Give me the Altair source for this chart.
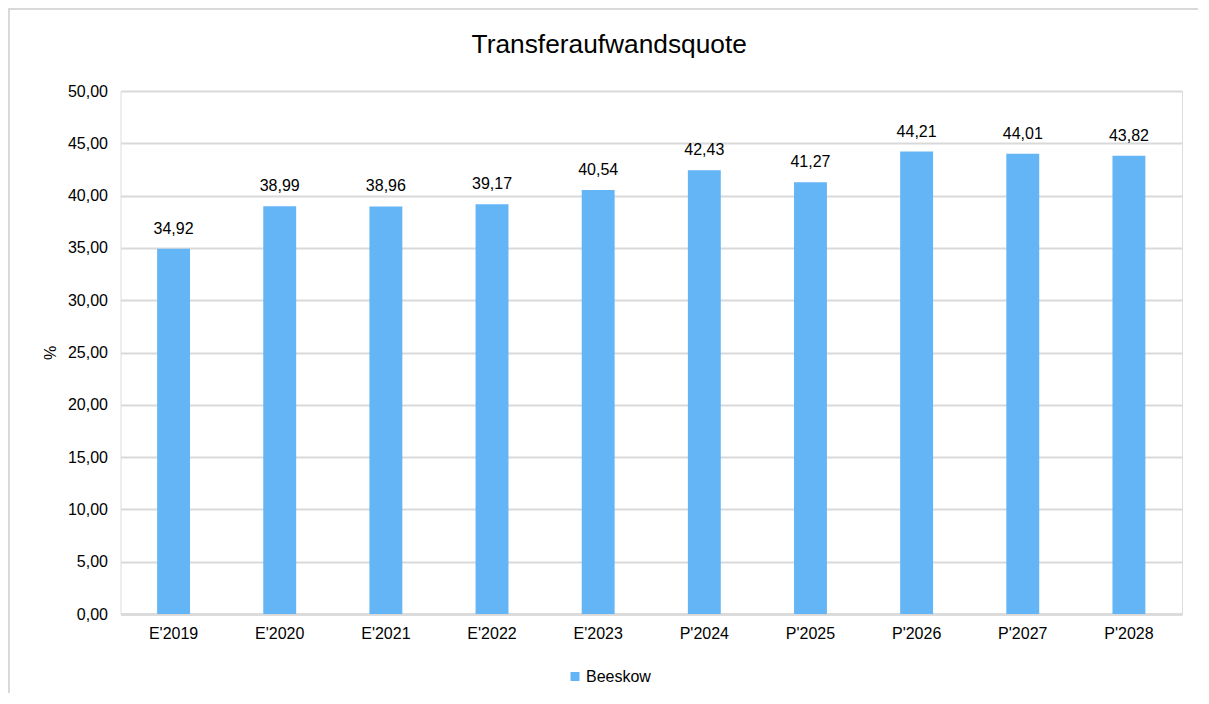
import altair as alt
import pandas as pd

categories = ["E'2019", "E'2020", "E'2021", "E'2022", "E'2023",
              "P'2024", "P'2025", "P'2026", "P'2027", "P'2028"]
values = [34.92, 38.99, 38.96, 39.17, 40.54, 42.43, 41.27, 44.21, 44.01, 43.82]
series = ["Beeskow"] * len(categories)
y_ticks = [0, 5, 10, 15, 20, 25, 30, 35, 40, 45, 50]

df = pd.DataFrame({"Jahr": categories, "Wert": values, "Reihe": series})

FONT = "Liberation Sans"
BLUE = "#63B5F6"
GRID = "#d9d9d9"

W, H = 1061.5, 523
PAD_L, PAD_T, PAD_R, PAD_B = 112.5, 83, 16, 79

base = alt.Chart(df)

bars = base.mark_bar(color=BLUE).encode(
    x=alt.X("Jahr:N", sort=categories, title=None,
            scale=alt.Scale(paddingInner=0.69, paddingOuter=0.345),
            axis=alt.Axis(labelAngle=0, ticks=False, grid=False, domain=True,
                          domainColor=GRID, domainWidth=2.5,
                          labelFontSize=16, labelFont=FONT, labelColor="#000000",
                          labelPadding=11)),
    y=alt.Y("Wert:Q", title="%",
            scale=alt.Scale(domain=[0, 50], nice=False),
            axis=alt.Axis(values=y_ticks, ticks=False, domain=False, grid=True,
                          gridColor=GRID, gridWidth=1.8,
                          labelExpr="replace(format(datum.value, '.2f'), '.', ',')",
                          labelFontSize=16, labelFont=FONT, labelColor="#000000",
                          labelPadding=13,
                          titleFontSize=16, titleFont=FONT, titleFontWeight="normal",
                          titleColor="#000000", titleX=-70.5, titleY=H / 2,
                          titleAlign="center", titleBaseline="middle", titleAngle=-90)),
    color=alt.Color("Reihe:N", scale=alt.Scale(range=[BLUE]),
                    legend=alt.Legend(title=None, orient="none", legendX=446.5, legendY=577.5,
                                      symbolType="square", symbolSize=81,
                                      symbolStrokeWidth=0,
                                      labelFontSize=16, labelFont=FONT, labelColor="#000000",
                                      labelOffset=3, padding=0)),
)

labels = base.transform_calculate(
    txt="replace(format(datum.Wert, '.2f'), '.', ',')"
).mark_text(baseline="alphabetic", dy=-15, fontSize=16, font=FONT, color="#000000").encode(
    x=alt.X("Jahr:N", sort=categories),
    y=alt.Y("Wert:Q"),
    text="txt:N",
)

frame_data = alt.Data(values=[{}])
frame_left = alt.Chart(frame_data).mark_rule(color=GRID, strokeWidth=2).encode(
    x=alt.value(-PAD_L + 1), y=alt.value(-PAD_T), y2=alt.value(H + PAD_B + 20),
)
frame_top = alt.Chart(frame_data).mark_rule(color=GRID, strokeWidth=2).encode(
    x=alt.value(-PAD_L), x2=alt.value(W + PAD_R), y=alt.value(-PAD_T + 1),
)

chart = alt.layer(frame_left, frame_top, bars, labels).properties(
    width=W, height=H,
    title=alt.TitleParams("Transferaufwandsquote", fontSize=26.3, font=FONT,
                          fontWeight="normal", color="#000000",
                          anchor="middle", dx=-42, offset=-51),
    autosize=alt.AutoSizeParams(type="none"),
    padding={"left": PAD_L, "top": PAD_T, "right": PAD_R, "bottom": PAD_B},
).configure_view(stroke=None).configure(background="white")

chart.save("out.html", embed_options={"renderer": "svg", "actions": False})
